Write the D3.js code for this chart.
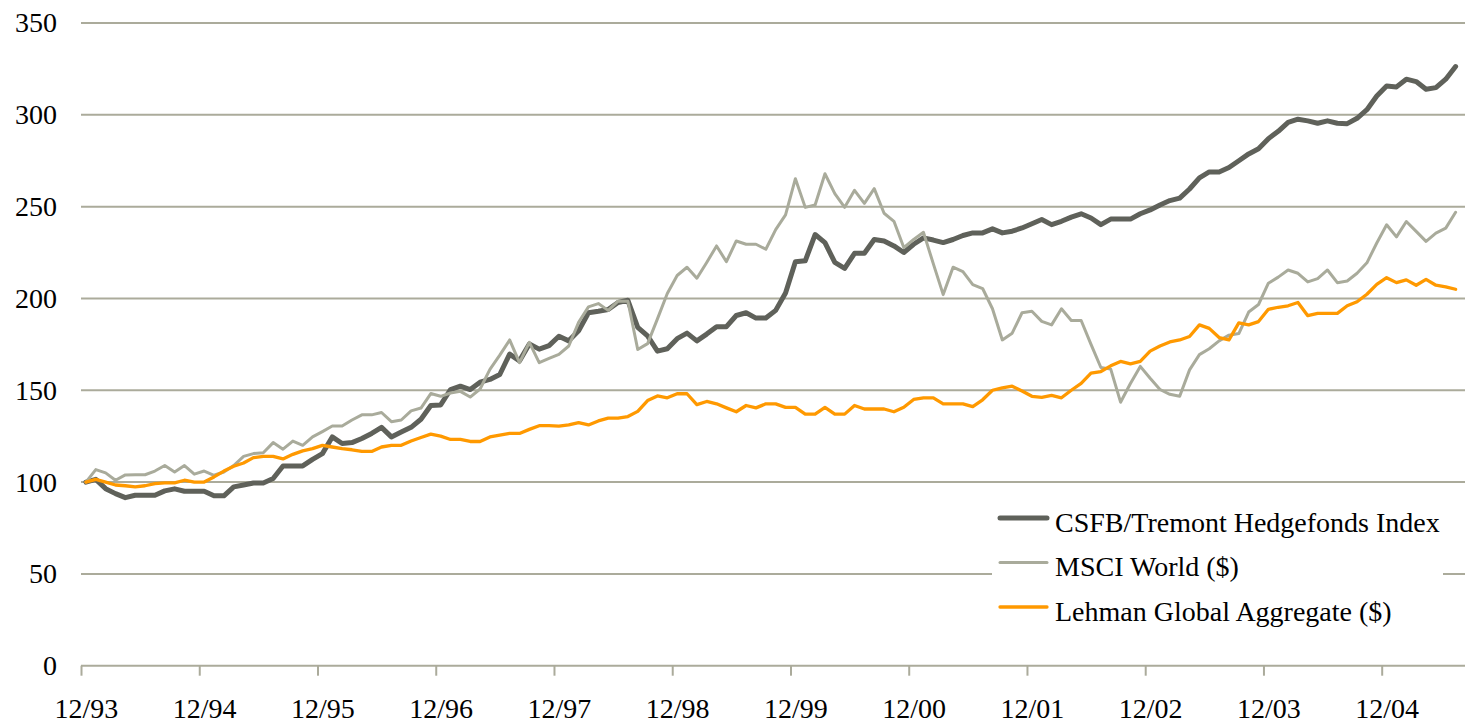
<!DOCTYPE html>
<html>
<head>
<meta charset="utf-8">
<script src="https://cdn.jsdelivr.net/npm/d3@7"></script>
<style>
    body { margin: 0; background: #ffffff; }
    svg { display: block; }
    svg text { font-family: 'Liberation Serif', 'Times New Roman', serif !important; fill: #000; }
</style>
</head>
<body>
<svg id="chart" width="1465" height="725"></svg>
<script>
// monthly index values, 12/93 = 100, through 7/05
var csfb = [100, 101.5, 96.4, 93.7, 91.5, 92.8, 92.8, 92.8, 95.2, 96.3, 95, 95, 95, 92.5, 92.5, 97.4, 98.4, 99.5, 99.5, 101.9,
    108.8, 108.8, 108.8, 112.4, 115.5, 124.6, 121, 121.5, 123.7, 126.5, 129.8, 124.6, 127.2, 129.8, 134.2, 141.7, 142, 150.4, 152.2, 150.4,
    154.4, 155.9, 158.6, 169.7, 166, 175.2, 172.4, 174.3, 179.4, 176.9, 182.4, 192.2, 193, 194, 197.8, 199, 184.3, 179.6, 171.3, 172.6,
    178.1, 181.1, 176.9, 180.6, 184.6, 184.6, 190.7, 192.2, 189.3, 189.3, 193.5, 203, 220, 220.5, 234.8, 230.4, 219.6, 216.4, 224.6, 224.6,
    232.1, 231.3, 228.6, 225, 229.5, 233, 231.8, 230.4, 232.1, 234.3, 235.7, 235.7, 237.9, 235.7, 236.6, 238.4, 240.7, 243, 240.2, 242,
    244.3, 246.1, 243.8, 240.2, 243.2, 243.2, 243.2, 246.1, 248.2, 250.9, 253.3, 254.6, 259.6, 265.7, 268.9, 268.9, 271.3, 275, 278.7, 281.5,
    287, 291, 295.9, 297.6, 296.7, 295.4, 296.7, 295.4, 295.2, 298.1, 302.8, 310.2, 315.7, 315.2, 319.4, 318.1, 313.9, 314.8, 319.4, 326.3];

var msci = [100, 106.8, 105, 101, 103.9, 104, 104, 106, 109, 105.5, 109, 104.3, 106, 103.7, 105.5, 109, 114, 115.5, 116, 121.5,
    117.9, 122.3, 120, 124.6, 127.5, 130.5, 130.5, 133.8, 136.6, 136.6, 137.9, 132.9, 133.8, 138.8, 140.3, 148.2, 146.7, 148.5, 149.4, 146.3,
    150.7, 161.4, 169.1, 177.4, 165, 176.1, 165, 167.3, 169.5, 174.1, 187, 195.4, 197.2, 193.5, 198.5, 198.5, 172.2, 175.4, 188.9, 202.7,
    212.5, 217, 211, 219.6, 228.6, 220, 231.3, 229.5, 229.5, 226.8, 237.5, 245.5, 265.2, 249.6, 250.9, 267.9, 257.1, 249.6, 258.9, 251.8,
    259.8, 246.4, 242, 227.7, 232.1, 236, 218.8, 202.1, 217, 214.6, 207.5, 205.4, 194.4, 177.4, 181.1, 192.2, 193, 187.5, 185.6, 194.4,
    188, 188, 175, 162.4, 161.5, 143.5, 153.7, 163, 156.5, 150.4, 147.8, 146.7, 161.1, 169.4, 172.6, 176.9, 180, 180.9, 192.6, 196.7,
    208.3, 211.6, 215.5, 213.7, 209, 210.8, 215.5, 208.6, 209.5, 213.7, 219.4, 230.2, 240.1, 233.5, 241.9, 236.5, 231.1, 235.6, 238.3, 246.9];

var lehman = [100, 101.5, 100, 98.4, 98, 97.4, 98, 99.2, 99.6, 99.6, 101, 100, 100, 102.8, 106, 108.6, 110.4, 113.3, 114, 114,
    112.6, 115.1, 117, 118.2, 120, 119.1, 118.2, 117.6, 116.7, 116.7, 119.1, 120, 120, 122.4, 124.3, 126.1, 125, 123.2, 123.2, 122.1,
    122.1, 124.6, 125.6, 126.5, 126.5, 128.7, 130.7, 130.7, 130.5, 131.1, 132.4, 131.1, 133.3, 134.8, 134.8, 135.7, 138.5, 144.4, 146.9, 145.9,
    148.1, 148.1, 142.2, 143.9, 142.6, 140.4, 138.3, 141.7, 140.4, 142.6, 142.6, 140.7, 140.7, 137, 137, 140.7, 137, 137, 141.7, 139.8,
    139.8, 139.8, 138.3, 140.7, 145, 145.9, 145.9, 142.6, 142.6, 142.6, 141.1, 144.8, 150, 151.3, 152.2, 149.6, 146.7, 146.1, 147.2, 145.9,
    150, 153.7, 159.3, 160.2, 163.3, 165.7, 164.4, 165.7, 171.3, 174.1, 176.3, 177.4, 179.3, 185.6, 183.7, 178.7, 177.4, 186.7, 185.6, 187.4,
    194.1, 195.2, 196, 197.8, 190.6, 191.9, 191.9, 191.9, 196, 198.2, 202.3, 207.7, 211.3, 208.6, 210.1, 207.2, 210.4, 207.2, 206.3, 205];

var seriesNames = ["CSFB/Tremont Hedgefonds Index", "MSCI World ($)", "Lehman Global Aggregate ($)"];
var tickLabels = ["12/93", "12/94", "12/95", "12/96", "12/97", "12/98", "12/99", "12/00", "12/01", "12/02", "12/03", "12/04"];
var yTicks = [0, 50, 100, 150, 200, 250, 300, 350];

d3.select(window).on('load', init);

function init() {
    var svg = d3.select('#chart');
    var W = 1465;
    var serif = "'Liberation Serif', 'Times New Roman', serif";

    var colors = ["#5f615a", "#a9ab9b", "#ff9900"];
    var widths = [5, 3, 3.3];

    // months since 12/93 -> pixels; points sit in the middle of each month slot
    var x = d3.scaleLinear().domain([0, 132]).range([81, 1381.7]);
    var y = d3.scaleLinear().domain([0, 350]).range([665.7, 23]);

    // gridlines
    svg.append("g").selectAll("line")
        .data(yTicks)
        .enter().append("line")
        .attr("x1", x(0)).attr("x2", W)
        .attr("y1", function(d) { return y(d); })
        .attr("y2", function(d) { return y(d); })
        .attr("stroke", "#abab9b")
        .attr("stroke-width", 2);

    // y labels
    var yAxis = svg.append("g")
        .attr("transform", "translate(" + x(0) + ",0)")
        .call(d3.axisLeft(y).tickValues(yTicks).tickSize(0).tickPadding(24));
    yAxis.attr("font-family", serif).attr("font-size", 28);
    yAxis.select(".domain").remove();
    yAxis.selectAll("text").attr("fill", "#000");

    // x ticks + labels
    var tickMonths = tickLabels.map(function(d, i) { return i * 12; });
    var xAxis = svg.append("g")
        .attr("transform", "translate(0," + y(0) + ")")
        .call(d3.axisBottom(x).tickValues(tickMonths).tickSize(10)
            .tickFormat(function(d, i) { return tickLabels[i]; }));
    xAxis.attr("font-family", serif).attr("font-size", 28);
    xAxis.select(".domain").remove();
    xAxis.selectAll("line").attr("stroke", "#abab9b").attr("stroke-width", 2);
    xAxis.selectAll("text")
        .attr("x", x(0.5) - x(0))
        .attr("y", 52)
        .attr("dy", 0)
        .attr("fill", "#000");

    // lines
    var line = d3.line()
        .x(function(d, i) { return x(i + 0.5); })
        .y(function(d) { return y(d); });

    var allSeries = [csfb, msci, lehman];
    svg.append("g").selectAll("path")
        .data(allSeries)
        .enter().append("path")
        .attr("d", line)
        .attr("fill", "none")
        .attr("stroke", function(d, i) { return colors[i]; })
        .attr("stroke-width", function(d, i) { return widths[i]; })
        .attr("stroke-linejoin", "round")
        .attr("stroke-linecap", "round");

    // legend
    var legend = svg.append("g");
    legend.append("rect")
        .attr("x", 992).attr("y", 492)
        .attr("width", 451).attr("height", 158)
        .attr("fill", "#ffffff");

    var rows = legend.selectAll(".row")
        .data(seriesNames)
        .enter().append("g")
        .attr("class", "row")
        .attr("transform", function(d, i) { return "translate(0," + (518 + i * 44.5) + ")"; });

    rows.append("line")
        .attr("x1", 1000).attr("x2", 1047)
        .attr("stroke", function(d, i) { return colors[i]; })
        .attr("stroke-width", function(d, i) { return widths[i]; })
        .attr("stroke-linecap", "round");

    rows.append("text")
        .attr("x", 1055)
        .attr("y", 13.5)
        .attr("font-size", 28)
        .text(function(d) { return d; });
}
</script>
</body>
</html>
